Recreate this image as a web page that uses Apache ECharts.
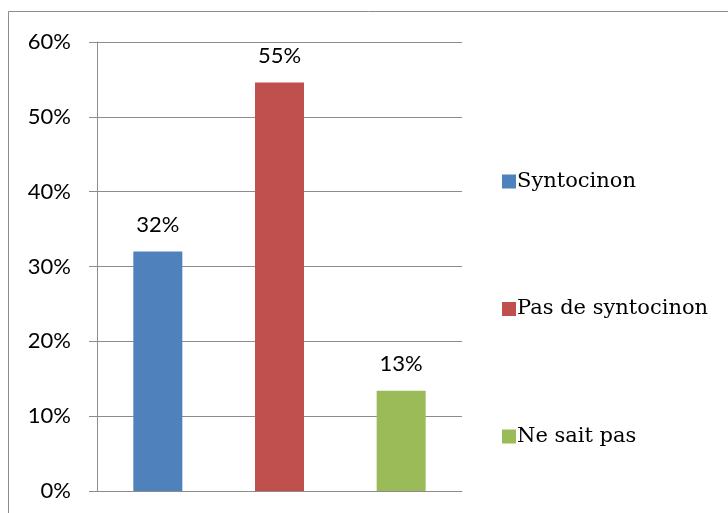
<!DOCTYPE html>
<html><head><meta charset="utf-8">
<script src="https://cdn.jsdelivr.net/npm/echarts@6/dist/echarts.min.js"></script>
<style>html,body{margin:0;padding:0;background:#fff}#c{width:728px;height:513px}</style>
</head><body><div id="c"></div>
<script>
const categories = ['Syntocinon', 'Pas de syntocinon', 'Ne sait pas'];
const values = [32.0, 54.6, 13.4];
const labels = ['32%', '55%', '13%'];
const colors = ['#4F81BD', '#C0504D', '#9BBB59'];
const serifFont = 'DejaVu Serif';

const chart = echarts.init(document.getElementById('c'));
const series = categories.map((name, i) => ({
  name: name,
  type: 'bar',
  barWidth: 49,
  barGap: '-100%',
  itemStyle: { color: colors[i] },
  data: categories.map((c, j) => j === i ? values[i] : '-'),
  label: {
    show: true, position: 'top', distance: 16,
    fontFamily: 'Lato', fontSize: 22, color: '#000',
    formatter: () => labels[i]
  }
}));
chart.setOption({
  animation: false,
  graphic: [{ type: 'rect', shape: { x: 8.5, y: 11.5, width: 800, height: 600 },
    style: { fill: 'none', stroke: '#8c8c8c', lineWidth: 1 } }],
  grid: { left: 97, right: 266, top: 42, bottom: 22 },
  xAxis: {
    type: 'category', data: categories,
    axisLine: { lineStyle: { color: '#8c8c8c' } },
    axisTick: { show: false }, axisLabel: { show: false }
  },
  yAxis: {
    type: 'value', min: 0, max: 60, interval: 10,
    axisLine: { show: true, lineStyle: { color: '#8c8c8c' } },
    axisTick: { show: true, length: 8, lineStyle: { color: '#8c8c8c' } },
    splitLine: { lineStyle: { color: '#8c8c8c' } },
    axisLabel: { formatter: '{value}%', margin: 26, fontFamily: 'Lato', fontSize: 22, color: '#000' }
  },
  legend: {
    orient: 'vertical', left: 497, top: 166,
    itemWidth: 14, itemHeight: 14, itemGap: 106.5,
    icon: 'rect',
    textStyle: { fontFamily: serifFont, fontSize: 21, color: '#000', padding: [0, 0, 0, -4] },
    data: categories
  },
  series: series
});
</script></body></html>
